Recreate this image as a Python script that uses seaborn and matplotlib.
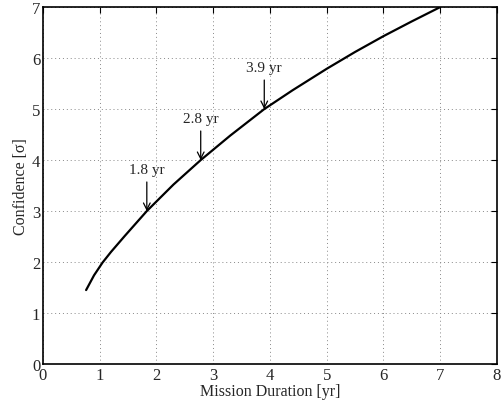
import matplotlib
matplotlib.use("Agg")
import matplotlib.pyplot as plt
import seaborn as sns
import pandas as pd

duration = [0.76, 0.9, 1.05, 1.2, 1.44, 1.83, 2.3, 2.78, 3.3, 3.9, 4.4, 5.0, 5.5, 6.0, 6.5, 7.0]
confidence = [1.45, 1.74, 1.99, 2.2, 2.51, 3.0, 3.52, 4.0, 4.48, 5.0, 5.37, 5.79, 6.12, 6.43, 6.72, 7.0]
marks_x = [1.83, 2.78, 3.9]
marks_y = [3.0, 4.0, 5.0]
marks_label = ["1.8 yr", "2.8 yr", "3.9 yr"]

sns.set_theme(style="white")
plt.rcParams["font.family"] = ["Liberation Serif", "DejaVu Serif"]

df = pd.DataFrame({"Mission Duration [yr]": duration, "Confidence": confidence})

fig = plt.figure(figsize=(5.01, 4.06), dpi=100)
ax = fig.add_axes([0.0858, 0.101, 0.906, 0.879])
sns.lineplot(data=df, x="Mission Duration [yr]", y="Confidence", ax=ax,
             color="black", lw=1.6, sort=False)

for x, y, lab in zip(marks_x, marks_y, marks_label):
    ax.annotate("", xy=(x, y), xytext=(x, y + 0.57),
                arrowprops=dict(arrowstyle="->", color="black", lw=0.9,
                                shrinkA=0, shrinkB=0))
    ax.text(x, y + 0.82, lab, ha="center", va="center", fontsize=11)

ax.set_xlim(0, 8)
ax.set_ylim(0, 7)
ax.set_xticks(range(0, 9))
ax.set_yticks(range(0, 8))
ax.grid(True, linestyle=(0, (1, 3)), color="#888888", lw=0.7)
ax.tick_params(direction="in", top=True, right=True, length=4, width=0.8,
               labelsize=12, color="black", pad=2)
for s in ax.spines.values():
    s.set_color("black")
    s.set_linewidth(1.2)
ax.set_xlabel("Mission Duration [yr]", fontsize=11.5, labelpad=0)
ax.set_ylabel("Confidence [σ]", fontsize=11.5, labelpad=2)

fig.savefig("out.png", dpi=100)
